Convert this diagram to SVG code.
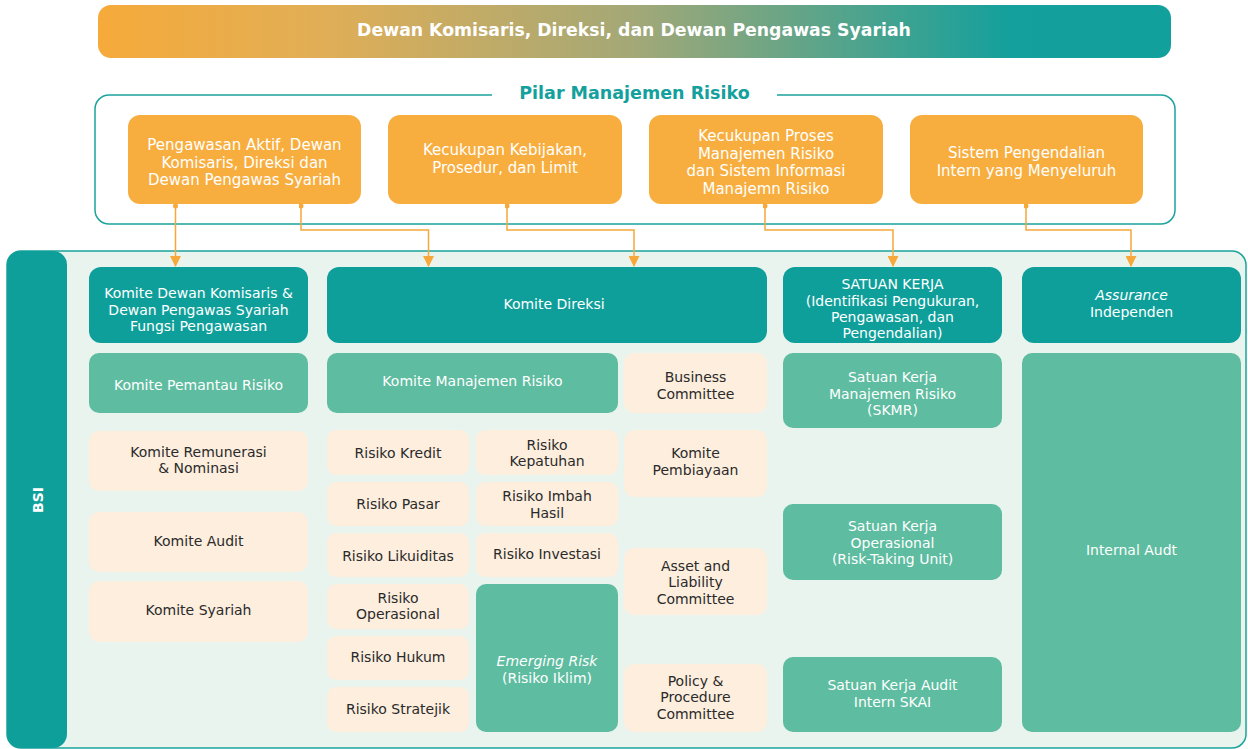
<svg xmlns="http://www.w3.org/2000/svg" width="1248" height="749" viewBox="0 0 1248 749">
<defs>
<linearGradient id="bannerGrad" x1="0" y1="0" x2="1" y2="0">
<stop offset="0" stop-color="#F6AA3A"/>
<stop offset="0.2" stop-color="#E2AE55"/>
<stop offset="0.5" stop-color="#A3A877"/>
<stop offset="0.85" stop-color="#14A09C"/>
<stop offset="1" stop-color="#12A09C"/>
</linearGradient>
<marker id="arr" viewBox="0 0 10 10" refX="9" refY="5" markerWidth="12" markerHeight="11" markerUnits="userSpaceOnUse" orient="auto">
<path d="M0,0 L10,5 L0,10 z" fill="#F6A83A"/>
</marker>
<marker id="dot" viewBox="0 0 6 6" refX="3" refY="3" markerWidth="5" markerHeight="5" markerUnits="userSpaceOnUse">
<circle cx="3" cy="3" r="3" fill="#F6A83A"/>
</marker>
</defs>
<style>
text{font-family:"DejaVu Sans","Open Sans",sans-serif;text-anchor:middle;dominant-baseline:central}
.pil{fill:#F8AE3E}
.pt{fill:#fff;font-size:15px}
.dk{fill:#0F9F9B}
.md{fill:#5EBCA0}
.cr{fill:#FDEEDE}
.wt{fill:#fff;font-size:14px}
.bt{fill:#2a2a2a;font-size:14px}
.conn{fill:none;stroke:#F6A83A;stroke-width:1.5;marker-start:url(#dot);marker-end:url(#arr)}
</style>

<g id="banner">
<rect x="98" y="5" width="1073" height="53" rx="13" fill="url(#bannerGrad)"/>
<text x="634" y="30" fill="#fff" font-size="17.3" font-weight="700">Dewan Komisaris, Direksi, dan Dewan Pengawas Syariah</text>
</g>

<g id="pilar">
<path d="M492,95 H109 A14,14 0 0 0 95,109 V210 A14,14 0 0 0 109,224 H1161 A14,14 0 0 0 1175,210 V109 A14,14 0 0 0 1161,95 H777" fill="#fff" stroke="#1BA39C" stroke-width="1.5"/>
<text x="634.5" y="93" fill="#14A09C" font-size="17.5" font-weight="700">Pilar Manajemen Risiko</text>
</g>

<g id="pilar1"><rect class="pil" x="128" y="115" width="233" height="89" rx="12"/>
<text class="pt" x="244.5" y="145">Pengawasan Aktif, Dewan</text><text class="pt" x="244.5" y="162.5">Komisaris, Direksi dan</text><text class="pt" x="244.5" y="180">Dewan Pengawas Syariah</text></g>
<g id="pilar2"><rect class="pil" x="388" y="115" width="234" height="89" rx="12"/>
<text class="pt" x="505" y="150">Kecukupan Kebijakan,</text><text class="pt" x="505" y="167.5">Prosedur, dan Limit</text></g>
<g id="pilar3"><rect class="pil" x="649" y="115" width="234" height="89" rx="12"/>
<text class="pt" x="766" y="136">Kecukupan Proses</text><text class="pt" x="766" y="153.5">Manajemen Risiko</text><text class="pt" x="766" y="171">dan Sistem Informasi</text><text class="pt" x="766" y="188.5">Manajemn Risiko</text></g>
<g id="pilar4"><rect class="pil" x="910" y="115" width="233" height="89" rx="12"/>
<text class="pt" x="1026.5" y="153">Sistem Pengendalian</text><text class="pt" x="1026.5" y="170.5">Intern yang Menyeluruh</text></g>

<g id="bsi">
<rect x="7" y="251" width="1239" height="497" rx="14" fill="#EAF4EE" stroke="#1BA39C" stroke-width="1.5"/>
<rect x="7" y="251" width="60" height="497" rx="14" fill="#0F9F9B"/>
<text x="38" y="500" transform="rotate(-90 38 500)" fill="#fff" font-size="14" font-weight="700">BSI</text>
</g>

<g id="connectors">
<path class="conn" d="M175.5,206 V266"/>
<path class="conn" d="M301,206 V230 H428.5 V266"/>
<path class="conn" d="M507,206 V230 H634 V266"/>
<path class="conn" d="M765,206 V230 H893 V266"/>
<path class="conn" d="M1026,206 V230 H1131 V266"/>
</g>

<g id="komite-dekom"><rect class="dk" x="89" y="267" width="219" height="76" rx="12"/>
<text class="wt" x="198.5" y="293">Komite Dewan Komisaris &amp;</text><text class="wt" x="198.5" y="309.5">Dewan Pengawas Syariah</text><text class="wt" x="198.5" y="326">Fungsi Pengawasan</text></g>
<g id="komite-pemantau"><rect class="md" x="89" y="353" width="219" height="60" rx="10"/>
<text class="wt" x="198.5" y="385">Komite Pemantau Risiko</text></g>
<g id="komite-remunerasi"><rect class="cr" x="89" y="431" width="219" height="60" rx="10"/>
<text class="bt" x="198.5" y="451.5">Komite Remunerasi</text><text class="bt" x="198.5" y="468">&amp; Nominasi</text></g>
<g id="komite-audit"><rect class="cr" x="89" y="512" width="219" height="60" rx="10"/>
<text class="bt" x="198.5" y="541">Komite Audit</text></g>
<g id="komite-syariah"><rect class="cr" x="89" y="581" width="219" height="61" rx="10"/>
<text class="bt" x="198.5" y="610">Komite Syariah</text></g>

<g id="komite-direksi"><rect class="dk" x="327" y="267" width="440" height="76" rx="12"/>
<text class="wt" x="554" y="304">Komite Direksi</text></g>
<g id="kmr"><rect class="md" x="327" y="353" width="291" height="60" rx="10"/>
<text class="wt" x="472.5" y="381">Komite Manajemen Risiko</text></g>
<g id="business"><rect class="cr" x="624" y="353" width="143" height="60" rx="10"/>
<text class="bt" x="695.5" y="377">Business</text><text class="bt" x="695.5" y="393.5">Committee</text></g>
<g id="r-kredit"><rect class="cr" x="327" y="430" width="142" height="45" rx="9"/>
<text class="bt" x="398" y="453">Risiko Kredit</text></g>
<g id="r-kepatuhan"><rect class="cr" x="476" y="430" width="142" height="45" rx="9"/>
<text class="bt" x="547" y="444.5">Risiko</text><text class="bt" x="547" y="461">Kepatuhan</text></g>
<g id="pembiayaan"><rect class="cr" x="624" y="430" width="143" height="67" rx="10"/>
<text class="bt" x="695.5" y="453">Komite</text><text class="bt" x="695.5" y="469.5">Pembiayaan</text></g>
<g id="r-pasar"><rect class="cr" x="327" y="482" width="142" height="44" rx="9"/>
<text class="bt" x="398" y="504">Risiko Pasar</text></g>
<g id="r-imbah"><rect class="cr" x="476" y="482" width="142" height="44" rx="9"/>
<text class="bt" x="547" y="496">Risiko Imbah</text><text class="bt" x="547" y="512.5">Hasil</text></g>
<g id="r-likuiditas"><rect class="cr" x="327" y="533" width="142" height="44" rx="9"/>
<text class="bt" x="398" y="556">Risiko Likuiditas</text></g>
<g id="r-investasi"><rect class="cr" x="476" y="533" width="142" height="44" rx="9"/>
<text class="bt" x="547" y="554">Risiko Investasi</text></g>
<g id="r-operasional"><rect class="cr" x="327" y="584" width="142" height="45" rx="9"/>
<text class="bt" x="398" y="597.5">Risiko</text><text class="bt" x="398" y="614">Operasional</text></g>
<g id="r-hukum"><rect class="cr" x="327" y="636" width="142" height="44" rx="9"/>
<text class="bt" x="398" y="657">Risiko Hukum</text></g>
<g id="r-stratejik"><rect class="cr" x="327" y="687" width="142" height="45" rx="9"/>
<text class="bt" x="398" y="709">Risiko Stratejik</text></g>
<g id="emerging"><rect class="md" x="476" y="584" width="142" height="148" rx="10"/>
<text class="wt" x="547" y="661" font-style="italic">Emerging Risk</text><text class="wt" x="547" y="677.5">(Risiko Iklim)</text></g>
<g id="alco"><rect class="cr" x="624" y="548" width="143" height="67" rx="10"/>
<text class="bt" x="695.5" y="565.5">Asset and</text><text class="bt" x="695.5" y="582">Liability</text><text class="bt" x="695.5" y="598.5">Committee</text></g>
<g id="policy"><rect class="cr" x="624" y="664" width="143" height="68" rx="10"/>
<text class="bt" x="695.5" y="680.5">Policy &amp;</text><text class="bt" x="695.5" y="697">Procedure</text><text class="bt" x="695.5" y="713.5">Committee</text></g>

<g id="satuan-kerja"><rect class="dk" x="783" y="267" width="219" height="76" rx="12"/>
<text class="wt" x="892.5" y="284">SATUAN KERJA</text><text class="wt" x="892.5" y="300.5">(Identifikasi Pengukuran,</text><text class="wt" x="892.5" y="317">Pengawasan, dan</text><text class="wt" x="892.5" y="333">Pengendalian)</text></g>
<g id="skmr"><rect class="md" x="783" y="353" width="219" height="75" rx="10"/>
<text class="wt" x="892.5" y="377">Satuan Kerja</text><text class="wt" x="892.5" y="393.5">Manajemen Risiko</text><text class="wt" x="892.5" y="410">(SKMR)</text></g>
<g id="sko"><rect class="md" x="783" y="504" width="219" height="76" rx="10"/>
<text class="wt" x="892.5" y="526">Satuan Kerja</text><text class="wt" x="892.5" y="542.5">Operasional</text><text class="wt" x="892.5" y="559">(Risk-Taking Unit)</text></g>
<g id="skai"><rect class="md" x="783" y="657" width="219" height="75" rx="10"/>
<text class="wt" x="892.5" y="685">Satuan Kerja Audit</text><text class="wt" x="892.5" y="701.5">Intern SKAI</text></g>

<g id="assurance"><rect class="dk" x="1022" y="267" width="219" height="76" rx="12"/>
<text class="wt" x="1131.5" y="295" font-style="italic">Assurance</text><text class="wt" x="1131.5" y="311.5">Independen</text></g>
<g id="internal-audit"><rect class="md" x="1022" y="353" width="219" height="379" rx="10"/>
<text class="wt" x="1131.5" y="550">Internal Audt</text></g>
</svg>
